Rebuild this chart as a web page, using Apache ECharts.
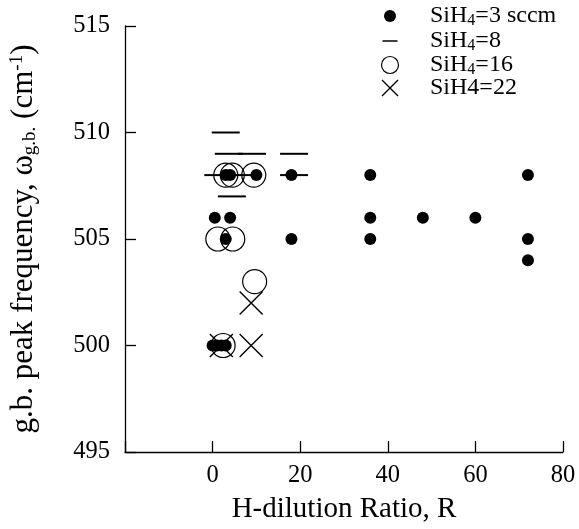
<!DOCTYPE html>
<html><head><meta charset="utf-8">
<script src="https://cdn.jsdelivr.net/npm/echarts@6/dist/echarts.min.js"></script>
<style>html,body{margin:0;padding:0;background:#fff}#c{width:579px;height:529px}</style>
</head><body><div id="c"></div>
<script>
// ---- data ----
const seriesNames = ['SiH4=3 sccm', 'SiH4=8', 'SiH4=16', 'SiH4=22'];
const xTickValues = [0, 20, 40, 60, 80];
const yTickValues = [495, 500, 505, 510, 515];

const sih3X = [3, 4, 10, 18, 0.5, 4, 3, 18, 0, 1, 2, 3, 36, 36, 36, 48, 60, 72, 72, 72];
const sih3Y = [508, 508, 508, 508, 506, 506, 505, 505, 500, 500, 500, 500, 508, 506, 505, 506, 506, 508, 505, 504];

const sih8X = [3, 3.7, 9, 18.6, 1.3, 6, 18.6, 4.4];
const sih8Y = [510, 509, 509, 509, 508, 508, 508, 507];

const sih16X = [3, 4.5, 9.4, 1.2, 4.6, 9.6, 2.4];
const sih16Y = [508, 508, 508, 505, 505, 503, 500];

const sih22X = [8.8, 2, 8.8];
const sih22Y = [502, 500, 500];

// ---- build ----
const pairs = (xs, ys) => xs.map((x, i) => [x, ys[i]]);
const SERIF = '"Liberation Serif", "DejaVu Serif", serif';
const crossPath = 'path://M0,0L10,10M10,0L0,10';
const dashPath = 'path://M0,0h10v1h-10z';

const legendRich = {
  t: { fontFamily: SERIF, fontSize: 24, color: '#000', lineHeight: 26 },
  s: { fontFamily: SERIF, fontSize: 16, color: '#000', lineHeight: 26, padding: [10, 0, 0, 0] }
};
const legendLabel = {
  'SiH4=3 sccm': '{t|SiH}{s|4}{t|=3 sccm}',
  'SiH4=8': '{t|SiH}{s|4}{t|=8}',
  'SiH4=16': '{t|SiH}{s|4}{t|=16}',
  'SiH4=22': '{t|SiH4=22}'
};
const legendRowsY = [16, 41, 65, 89];
const legendIcons = ['circle', dashPath, 'circle', crossPath];
const legendIconH = [12, 1.5, 17, 16];
const legendIconVisW = [12, 15, 18.2, 17.4];
const legendStyles = [
  { color: '#000', borderWidth: 0, opacity: 1 },
  { color: '#000', borderWidth: 0, opacity: 1 },
  { color: 'rgba(0,0,0,0)', borderColor: '#000', borderWidth: 1.2, opacity: 1 },
  { color: 'rgba(0,0,0,0)', borderColor: '#000', borderWidth: 1.4, opacity: 1 }
];
const legends = seriesNames.map((n, i) => ({
  data: [{ name: n, icon: legendIcons[i], itemStyle: legendStyles[i] }],
  left: 390 - legendIconVisW[i] / 2, top: legendRowsY[i] - 13, padding: 0,
  itemWidth: 70, itemHeight: legendIconH[i],
  selectedMode: false,
  formatter: name => legendLabel[name],
  textStyle: { rich: legendRich }
}));

const chart = echarts.init(document.getElementById('c'), null, { renderer: 'canvas' });
chart.setOption({
  animation: false,
  backgroundColor: '#fff',
  grid: { left: 124, right: 16, top: 26, bottom: 77 },
  legend: legends,
  xAxis: {
    type: 'value', min: -20, max: 80, interval: 20,
    name: 'H-dilution Ratio, R', nameLocation: 'middle', nameGap: 43,
    nameTextStyle: { fontFamily: SERIF, fontSize: 29, color: '#000' },
    axisLine: { onZero: false, lineStyle: { color: '#000', width: 1.3 } },
    axisTick: { inside: true, length: 11, lineStyle: { color: '#000', width: 1.3 } },
    axisLabel: {
      fontFamily: SERIF, fontSize: 24.5, color: '#000', margin: 11,
      formatter: v => xTickValues.includes(v) ? String(v) : ''
    },
    splitLine: { show: false }
  },
  yAxis: {
    type: 'value', min: 495, max: 515, interval: 5,
    name: '{n|g.b. peak frequency, ω}{s|g.b.}{n| (cm}{p|-1}{n|)}',
    nameLocation: 'middle', nameGap: 85, nameRotate: 90,
    nameTextStyle: {
      rich: {
        n: { fontFamily: SERIF, fontSize: 31, color: '#000', lineHeight: 32 },
        s: { fontFamily: SERIF, fontSize: 19, color: '#000', lineHeight: 32, padding: [13, 0, 0, 0] },
        p: { fontFamily: SERIF, fontSize: 19, color: '#000', lineHeight: 32, padding: [0, 0, 13, 0] }
      }
    },
    axisLine: { show: true, onZero: false, lineStyle: { color: '#000', width: 1.3 } },
    axisTick: { show: true, inside: true, length: 11, lineStyle: { color: '#000', width: 1.3 } },
    axisLabel: {
      fontFamily: SERIF, fontSize: 24.5, color: '#000', margin: 15,
      formatter: v => yTickValues.includes(v) ? String(v) : ''
    },
    splitLine: { show: false }
  },
  series: [
    {
      name: seriesNames[2], type: 'scatter', data: pairs(sih16X, sih16Y),
      symbol: 'circle', symbolSize: 24, z: 2,
      itemStyle: { color: 'rgba(0,0,0,0)', borderColor: '#000', borderWidth: 1.2, opacity: 1 },
      emphasis: { disabled: true }
    },
    {
      name: seriesNames[3], type: 'scatter', data: pairs(sih22X, sih22Y),
      symbol: crossPath, symbolSize: 23, z: 3,
      itemStyle: { color: 'rgba(0,0,0,0)', borderColor: '#000', borderWidth: 1.4, opacity: 1 },
      emphasis: { disabled: true }
    },
    {
      name: seriesNames[1], type: 'scatter', data: pairs(sih8X, sih8Y),
      symbol: 'rect', symbolSize: [28, 2], z: 4,
      itemStyle: { color: '#000', opacity: 1 },
      emphasis: { disabled: true }
    },
    {
      name: seriesNames[0], type: 'scatter', data: pairs(sih3X, sih3Y),
      symbol: 'circle', symbolSize: 12, z: 5,
      itemStyle: { color: '#000', opacity: 1 },
      emphasis: { disabled: true }
    }
  ]
});
</script>
</body></html>
